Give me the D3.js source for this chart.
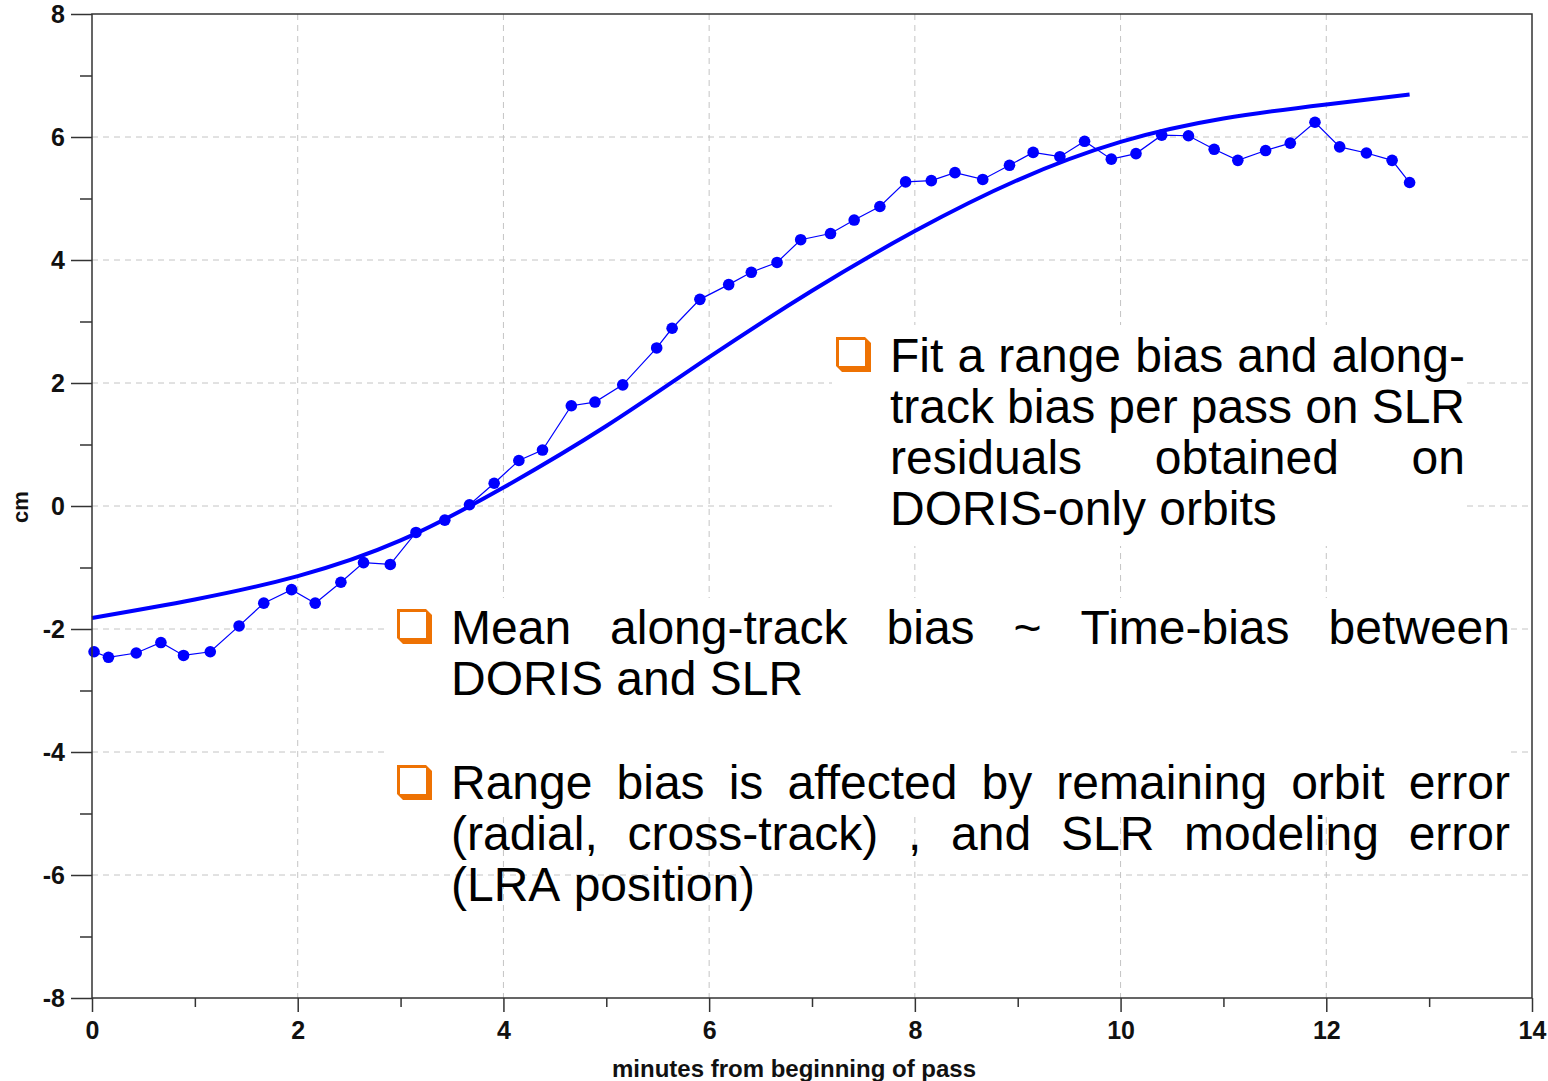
<!DOCTYPE html>
<html>
<head>
<meta charset="utf-8">
<script src="https://cdn.jsdelivr.net/npm/d3@7"></script>
<style>
  body { margin: 0; background: #fff; }
  svg { display: block; font-family: 'Liberation Sans', Arial, sans-serif; }
</style>
</head>
<body>
<div id="chart"></div>
<script>
// residuals per normal point (minutes from beginning of pass, cm)
const minutes = [0.02, 0.16, 0.43, 0.67, 0.89, 1.15, 1.43, 1.67, 1.94, 2.17,
    2.42, 2.64, 2.90, 3.15, 3.43, 3.67, 3.91, 4.15, 4.38, 4.66,
    4.89, 5.16, 5.49, 5.64, 5.91, 6.19, 6.41, 6.66, 6.89, 7.18,
    7.41, 7.66, 7.91, 8.16, 8.39, 8.66, 8.92, 9.15, 9.41, 9.65,
    9.91, 10.15, 10.40, 10.66, 10.91, 11.14, 11.41, 11.65, 11.89, 12.13,
    12.39, 12.64, 12.81]
const residuals = [-2.37, -2.46, -2.39, -2.22, -2.43, -2.37, -1.95, -1.58, -1.36, -1.58,
    -1.24, -0.92, -0.95, -0.43, -0.23, 0.02, 0.37, 0.74, 0.91, 1.63,
    1.69, 1.97, 2.57, 2.89, 3.36, 3.60, 3.80, 3.96, 4.33, 4.43,
    4.65, 4.87, 5.27, 5.29, 5.42, 5.31, 5.54, 5.75, 5.68, 5.93,
    5.64, 5.73, 6.03, 6.02, 5.80, 5.62, 5.78, 5.90, 6.24, 5.84,
    5.74, 5.62, 5.26]

// fitted curve (range bias + along-track bias)
const fitMinutes = [0, 1, 2, 3, 4, 5, 6, 7, 8, 9, 10, 11, 12, 12.81]
const fitValues = [-1.82, -1.52, -1.14, -0.56, 0.3, 1.3, 2.42, 3.5, 4.47, 5.3, 5.92, 6.3, 6.53, 6.69]

const xTicks = [0, 2, 4, 6, 8, 10, 12, 14]
const yTicks = [-8, -6, -4, -2, 0, 2, 4, 6, 8]
const xLabel = 'minutes from beginning of pass'
const yLabel = 'cm'

const notes = [
    { left: 890, right: 1465, top: 372, bullet: [836, 337],
      lines: ['Fit a range bias and along-', 'track bias per pass on SLR',
              'residuals obtained on', 'DORIS-only orbits'] },
    { left: 451, right: 1510, top: 644, bullet: [397, 609],
      lines: ['Mean along-track bias ~ Time-bias between', 'DORIS and SLR'] },
    { left: 451, right: 1510, top: 799, bullet: [397, 765],
      lines: ['Range bias is affected by remaining orbit error',
              '(radial, cross-track) , and SLR modeling error', '(LRA position)'] },
]

const width = 1548
const height = 1081
const margin = { top: 14, right: 16, bottom: 83, left: 92 }
const plotW = width - margin.left - margin.right
const plotH = height - margin.top - margin.bottom

const x = d3.scaleLinear().domain([0, 14]).range([0, plotW])
const y = d3.scaleLinear().domain([-8, 8]).range([plotH, 0])

const svg = d3.select('#chart').append('svg')
    .attr('width', width)
    .attr('height', height)

const g = svg.append('g')
    .attr('transform', `translate(${margin.left}, ${margin.top})`)

// grid
g.append('g')
    .selectAll('line')
    .data(xTicks.filter((d) => d > 0 && d < 14))
    .enter()
    .append('line')
    .attr('x1', x).attr('x2', x)
    .attr('y1', 0).attr('y2', plotH)
    .attr('stroke', '#c4c4c4')
    .attr('stroke-dasharray', '6,5')

g.append('g')
    .selectAll('line')
    .data(yTicks.filter((d) => d > -8 && d < 8))
    .enter()
    .append('line')
    .attr('y1', y).attr('y2', y)
    .attr('x1', 0).attr('x2', plotW)
    .attr('stroke', '#c4c4c4')
    .attr('stroke-dasharray', '6,5')

// text boxes hide the grid behind them
svg.append('rect').attr('x', 832).attr('y', 325).attr('width', 634).attr('height', 221).attr('fill', '#fff')
svg.append('rect').attr('x', 389).attr('y', 598).attr('width', 1121).attr('height', 216).attr('fill', '#fff')

// fitted curve
const fitLine = d3.line()
    .x((d, i) => x(fitMinutes[i]))
    .y((d) => y(d))
    .curve(d3.curveNatural)

g.append('path')
    .datum(fitValues)
    .attr('d', fitLine)
    .attr('fill', 'none')
    .attr('stroke', '#0000ff')
    .attr('stroke-width', 4)

// residuals
const resLine = d3.line()
    .x((d, i) => x(minutes[i]))
    .y((d) => y(d))

g.append('path')
    .datum(residuals)
    .attr('d', resLine)
    .attr('fill', 'none')
    .attr('stroke', '#0000ff')
    .attr('stroke-width', 1.2)

g.selectAll('.dot')
    .data(residuals)
    .enter()
    .append('circle')
    .attr('class', 'dot')
    .attr('cx', (d, i) => x(minutes[i]))
    .attr('cy', (d) => y(d))
    .attr('r', 5.8)
    .attr('fill', '#0000ff')

// frame
g.append('rect')
    .attr('width', plotW)
    .attr('height', plotH)
    .attr('fill', 'none')
    .attr('stroke', '#333')
    .attr('stroke-width', 1.5)

// axes
const styleAxis = (sel) => {
    sel.select('.domain').remove()
    sel.selectAll('.tick line').attr('stroke', '#333').attr('stroke-width', 1.5)
    sel.selectAll('.tick text')
        .attr('fill', '#111')
        .style('font-size', '25px')
        .style('font-weight', 'bold')
}

g.append('g')
    .call(d3.axisLeft(y).tickValues(yTicks).tickSize(21).tickPadding(6).tickFormat((d) => String(d)))
    .call(styleAxis)

g.append('g')
    .call(d3.axisLeft(y).tickValues(d3.range(-7, 8, 2)).tickSize(12).tickFormat(''))
    .call(styleAxis)

g.append('g')
    .attr('transform', `translate(0, ${plotH})`)
    .call(d3.axisBottom(x).tickValues(xTicks).tickSize(14).tickPadding(9).tickFormat((d) => String(d)))
    .call(styleAxis)

g.append('g')
    .attr('transform', `translate(0, ${plotH})`)
    .call(d3.axisBottom(x).tickValues(d3.range(1, 14, 2)).tickSize(9).tickFormat(''))
    .call(styleAxis)

svg.append('text')
    .attr('x', 794)
    .attr('y', 1077)
    .attr('text-anchor', 'middle')
    .style('font-size', '24px')
    .style('font-weight', 'bold')
    .attr('fill', '#111')
    .text(xLabel)

svg.append('text')
    .attr('transform', 'translate(28, 507) rotate(-90)')
    .attr('text-anchor', 'middle')
    .style('font-size', '22px')
    .style('font-weight', 'bold')
    .attr('fill', '#111')
    .text(yLabel)

// bullet notes, justified like the slide text
const lineGap = 51
notes.forEach((note) => {
    const [bx, by] = note.bullet
    const b = svg.append('g').attr('transform', `translate(${bx}, ${by})`)
    b.append('path')
        .attr('d', 'M0,0 H29 L35,6 V35 H6 L0,29 Z')
        .attr('fill', '#ee7203')
    b.append('rect')
        .attr('x', 3).attr('y', 3)
        .attr('width', 26).attr('height', 26)
        .attr('fill', '#fff')

    note.lines.forEach((line, li) => {
        const words = line.split(' ')
        const baseline = note.top + li * lineGap
        const last = li === note.lines.length - 1
        const nodes = words.map((w) => svg.append('text')
            .attr('y', baseline)
            .style('font-size', '48px')
            .attr('fill', '#000')
            .text(w))
        const widths = nodes.map((n) => n.node().getComputedTextLength())
        const total = d3.sum(widths)
        const space = last || words.length < 2
            ? 13.3
            : (note.right - note.left - total) / (words.length - 1)
        let cx = note.left
        nodes.forEach((n, i) => {
            n.attr('x', cx)
            cx += widths[i] + space
        })
    })
})
</script>
</body>
</html>
